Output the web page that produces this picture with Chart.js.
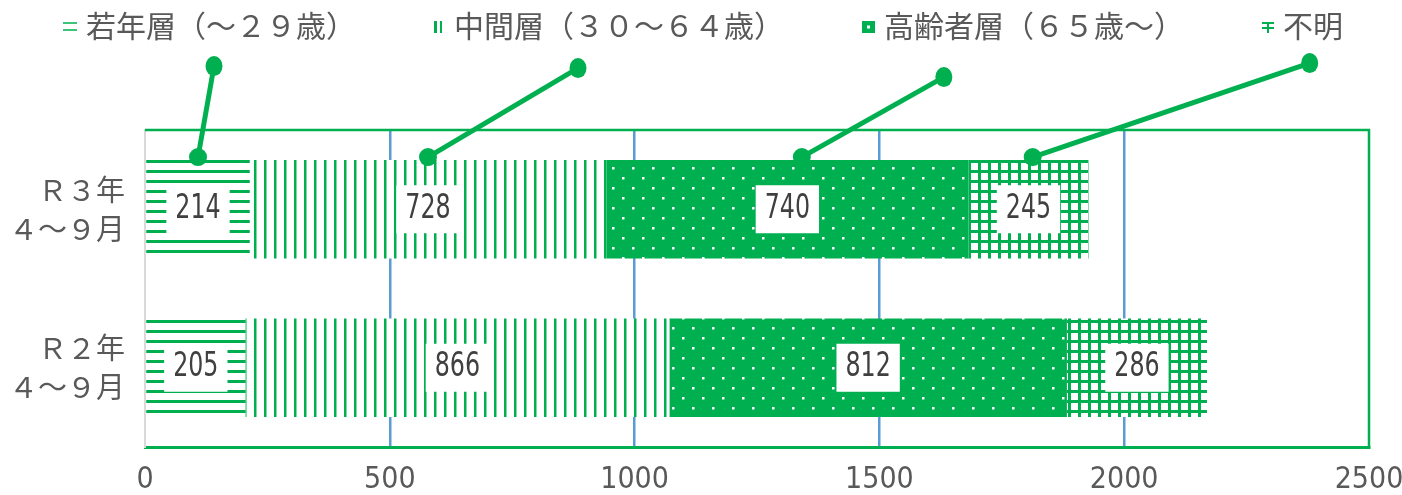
<!DOCTYPE html>
<html lang="ja">
<head>
<meta charset="utf-8">
<title>年齢層別件数</title>
<script src="https://cdn.jsdelivr.net/npm/chart.js@4.4.1/dist/chart.umd.min.js"></script>
<style>
  html, body { margin: 0; padding: 0; background: #fff; }
  canvas { display: block; }
</style>
</head>
<body>
<canvas id="ageChart" width="1402" height="495"></canvas>
<script>
const categories = [['Ｒ３年', '４～９月'], ['Ｒ２年', '４～９月']]
const seriesNames = ['若年層（～２９歳）', '中間層（３０～６４歳）', '高齢者層（６５歳～）', '不明']
const youth = [214, 205]
const middle = [728, 866]
const senior = [740, 812]
const unknown = [245, 286]
const xTicks = [0, 500, 1000, 1500, 2000, 2500]

const GREEN = '#00B050'
const GRID_BLUE = '#5B9BD5'
const TEXT_GRAY = '#595959'
const NARROW = "'Liberation Sans Narrow', 'DejaVu Sans Condensed', sans-serif"
const JP = "'Noto Sans CJK JP', sans-serif"

// small canvases used as fill tiles and legend markers
function tile(w, h, draw) {
    const c = document.createElement('canvas')
    c.width = w
    c.height = h
    draw(c.getContext('2d'), w, h)
    return c
}

const canvas = document.getElementById('ageChart')
const ctx = canvas.getContext('2d')

const hLines = ctx.createPattern(tile(10, 10, (g, w, h) => {
    g.fillStyle = '#fff'; g.fillRect(0, 0, w, h)
    g.fillStyle = GREEN; g.fillRect(0, 0, w, 3)
}), 'repeat')
const vLines = ctx.createPattern(tile(10, 10, (g, w, h) => {
    g.fillStyle = '#fff'; g.fillRect(0, 0, w, h)
    g.fillStyle = GREEN; g.fillRect(4, 0, 2.5, h)
}), 'repeat')
const dots = ctx.createPattern(tile(20, 20, (g, w, h) => {
    g.fillStyle = GREEN; g.fillRect(0, 0, w, h)
    g.fillStyle = '#fff'
    g.fillRect(12, 7, 2.5, 2.5)
    g.fillRect(2, 17, 2.5, 2.5)
}), 'repeat')
const grid = ctx.createPattern(tile(10, 10, (g, w, h) => {
    g.fillStyle = GREEN; g.fillRect(0, 0, w, h)
    g.fillStyle = '#fff'; g.fillRect(1, 3, 7, 7)
}), 'repeat')

const markers = [
    tile(14, 10, g => { g.fillStyle = '#3cc47a'; g.fillRect(0, 0, 14, 2); g.fillRect(0, 7, 14, 2) }),
    tile(11, 12, g => { g.fillStyle = GREEN; g.fillRect(0, 0, 3, 12); g.fillRect(6, 0, 2, 12) }),
    tile(13, 12, g => { g.fillStyle = GREEN; g.fillRect(0, 0, 13, 12); g.fillStyle = '#fff'; g.fillRect(5, 4.5, 3, 3) }),
    tile(12, 12, g => { g.fillStyle = GREEN; g.fillRect(0, 1, 12, 2); g.fillRect(0, 6, 12, 2); g.fillRect(5, 1, 2, 11) })
]

// legend row across the top
const topLegend = {
    id: 'topLegend',
    afterDraw(chart, args, opts) {
        const c = chart.ctx
        c.save()
        c.font = opts.font
        c.fillStyle = opts.color
        c.textBaseline = 'middle'
        const items = chart.data.datasets.map((ds, i) => ({
            text: ds.label,
            marker: markers[i],
            w: c.measureText(ds.label).width
        }))
        const total = items.reduce((s, it) => s + it.marker.width + opts.markerGap + it.w, 0) + opts.gap * (items.length - 1)
        let x = (chart.width - total) / 2 + opts.offsetX
        items.forEach(it => {
            c.drawImage(it.marker, x, opts.markerY - it.marker.height / 2)
            x += it.marker.width + opts.markerGap
            c.fillText(it.text, x, opts.textY)
            x += it.w + opts.gap
        })
        c.restore()
    }
}

// green frame on top and right of the plot area
const plotFrame = {
    id: 'plotFrame',
    beforeDatasetsDraw(chart, args, opts) {
        const {ctx: c, chartArea: a} = chart
        c.save()
        c.strokeStyle = opts.color
        c.lineWidth = opts.width
        c.beginPath()
        c.moveTo(a.left, a.top)
        c.lineTo(a.right, a.top)
        c.lineTo(a.right, a.bottom)
        c.stroke()
        c.restore()
    }
}

// value in a white box in the middle of each segment
const boxedLabels = {
    id: 'boxedLabels',
    afterDatasetsDraw(chart, args, opts) {
        const c = chart.ctx
        c.save()
        c.font = opts.font
        c.textAlign = 'center'
        c.textBaseline = 'middle'
        chart.data.datasets.forEach((ds, i) => {
            chart.getDatasetMeta(i).data.forEach((bar, j) => {
                const text = String(ds.data[j])
                const cx = (bar.x + bar.base) / 2
                const tw = c.measureText(text).width * opts.squeeze
                c.fillStyle = '#fff'
                c.fillRect(cx - tw / 2 - opts.padX, bar.y - opts.boxH / 2, tw + opts.padX * 2, opts.boxH)
                c.fillStyle = opts.color
                c.save()
                c.translate(cx, bar.y + opts.textDy)
                c.scale(opts.squeeze, 1)
                c.fillText(text, 0, 0)
                c.restore()
            })
        })
        c.restore()
    }
}

// leader lines from the first row's segments up towards the legend
const callouts = {
    id: 'callouts',
    afterDatasetsDraw(chart, args, opts) {
        const c = chart.ctx
        c.save()
        c.strokeStyle = opts.color
        c.fillStyle = opts.color
        c.lineWidth = opts.lineWidth
        opts.items.forEach((it, i) => {
            const bar = chart.getDatasetMeta(i).data[0]
            const x0 = bar.base + (bar.x - bar.base) * it.at
            const y0 = bar.y - bar.height / 2 - 3
            const x1 = x0 + it.dx
            const y1 = y0 + it.dy
            c.beginPath()
            c.moveTo(x0, y0)
            c.lineTo(x1, y1)
            c.stroke()
            c.beginPath()
            c.arc(x0, y0, 9, 0, Math.PI * 2)
            c.fill()
            c.beginPath()
            c.ellipse(x1, y1, 8.5, 10, 0, 0, Math.PI * 2)
            c.fill()
        })
        c.restore()
    }
}

const chart = new Chart(canvas, {
    type: 'bar',
    data: {
        labels: categories,
        datasets: [
            { label: seriesNames[0], data: youth, backgroundColor: hLines },
            { label: seriesNames[1], data: middle, backgroundColor: vLines },
            { label: seriesNames[2], data: senior, backgroundColor: dots },
            { label: seriesNames[3], data: unknown, backgroundColor: grid }
        ]
    },
    options: {
        indexAxis: 'y',
        responsive: false,
        animation: false,
        events: [],
        datasets: {
            bar: { borderWidth: 0, categoryPercentage: 0.62, barPercentage: 1 }
        },
        layout: { padding: { top: 130, right: 33, left: 0, bottom: 0 } },
        scales: {
            x: {
                type: 'linear',
                stacked: true,
                min: xTicks[0],
                max: xTicks[xTicks.length - 1],
                ticks: {
                    stepSize: xTicks[1] - xTicks[0],
                    color: TEXT_GRAY,
                    padding: 15,
                    font: { family: NARROW, size: 30 },
                    callback: v => String(v)
                },
                grid: {
                    drawTicks: false,
                    lineWidth: 2.5,
                    color: c => (c.tick && (c.tick.value === xTicks[0] || c.tick.value === xTicks[xTicks.length - 1])) ? 'rgba(0,0,0,0)' : GRID_BLUE
                },
                border: { color: GREEN, width: 3 },
                afterFit: s => {
                    s.height = 48
                    s.paddingLeft = 0
                    s.paddingRight = 0
                }
            },
            y: {
                stacked: true,
                grid: { display: false },
                border: { color: '#D9D9D9', width: 2 },
                ticks: {
                    color: TEXT_GRAY,
                    padding: 12,
                    font: { family: JP, size: 29, lineHeight: 1.35 }
                },
                afterFit: s => {
                    s.width = 145
                    s.paddingTop = 0
                    s.paddingBottom = 0
                }
            }
        },
        plugins: {
            legend: { display: false },
            tooltip: { enabled: false },
            topLegend: {
                font: '30px ' + JP,
                color: TEXT_GRAY,
                gap: 78,
                markerGap: 9,
                offsetX: 2,
                textY: 26,
                markerY: 27
            },
            plotFrame: { color: GREEN, width: 2.5 },
            boxedLabels: { font: '33px ' + NARROW, color: '#404040', padX: 9, boxH: 48, textDy: 0, squeeze: 0.8 },
            callouts: {
                color: GREEN,
                lineWidth: 5,
                items: [
                    { at: 0.5, dx: 16, dy: -91 },
                    { at: 0.5, dx: 150, dy: -89 },
                    { at: 0.54, dx: 142, dy: -80 },
                    { at: 0.535, dx: 277, dy: -94 }
                ]
            }
        }
    },
    plugins: [plotFrame, boxedLabels, callouts, topLegend]
})
</script>
</body>
</html>
